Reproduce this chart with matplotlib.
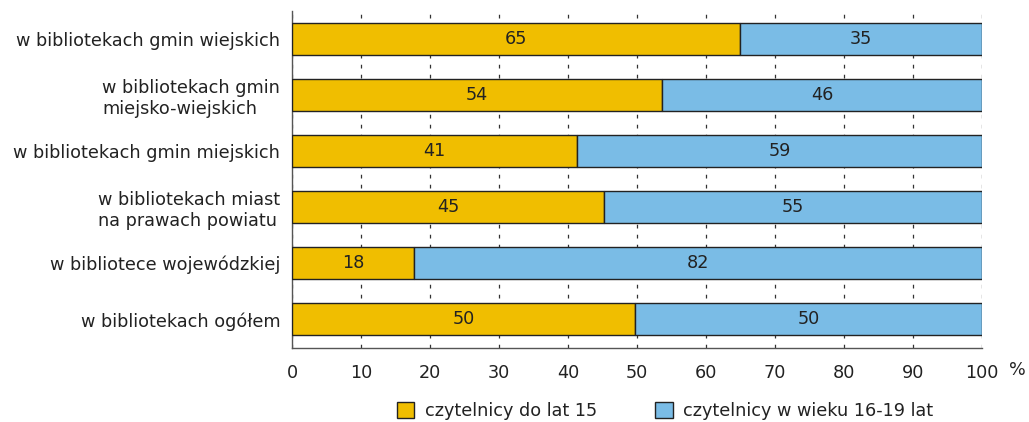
import matplotlib
matplotlib.use("Agg")
import matplotlib.pyplot as plt
from matplotlib.patches import Patch

categories = [
    "w bibliotekach gmin wiejskich",
    "w bibliotekach gmin\nmiejsko-wiejskich",
    "w bibliotekach gmin miejskich",
    "w bibliotekach miast\nna prawach powiatu",
    "w bibliotece wojewódzkiej",
    "w bibliotekach ogółem",
]
under15 = [64.9, 53.6, 41.3, 45.2, 17.7, 49.7]
age16_19 = [35.1, 46.4, 58.7, 54.8, 82.3, 50.3]
labels_under15 = ["65", "54", "41", "45", "18", "50"]
labels_16_19 = ["35", "46", "59", "55", "82", "50"]
series_names = ["czytelnicy do lat 15", "czytelnicy w wieku 16-19 lat"]
xticks = [0, 10, 20, 30, 40, 50, 60, 70, 80, 90, 100]

c1 = "#F0BE00"
c2 = "#7ABCE6"
edge = "#222222"
txt = "#222222"
fs = 12.7

plt.rcParams['font.family'] = ['DejaVu Sans']
fig = plt.figure(figsize=(10.29, 4.22), dpi=100)
ax = fig.add_axes([292/1029, 1-347.5/422, 690/1029, 337/422])

y = list(range(len(categories)))
ax.barh(y, under15, height=0.57, color=c1, edgecolor=edge, linewidth=1.0, zorder=3)
ax.barh(y, age16_19, left=under15, height=0.57, color=c2, edgecolor=edge, linewidth=1.0, zorder=3)

for i in y:
    ax.text(under15[i]/2, i, labels_under15[i], ha='center', va='center', fontsize=fs, color=txt, zorder=4)
    ax.text(under15[i] + age16_19[i]/2, i, labels_16_19[i], ha='center', va='center', fontsize=fs, color=txt, zorder=4)

ax.set_xlim(0, 100)
ax.set_ylim(len(categories)-0.5, -0.5)
ax.set_yticks(y)
ax.set_yticklabels(categories, fontsize=fs, color=txt, multialignment='left')
ax.set_xticks(xticks)
ax.set_xticklabels([str(v) for v in xticks], fontsize=fs, color=txt)
ax.tick_params(axis='x', length=0, pad=12)
ax.tick_params(axis='y', length=0, pad=8.5)
ax.xaxis.grid(True, linestyle=(0, (3, 5)), color='#333333', linewidth=0.9, zorder=0)
ax.set_axisbelow(True)
for s in ['top', 'right']:
    ax.spines[s].set_visible(False)
for s in ['left', 'bottom']:
    ax.spines[s].set_color('#555555')
    ax.spines[s].set_linewidth(1.0)

fig.text(1017/1029, 1-370/422, "%", fontsize=fs, color=txt, ha='center', va='center')

handles = [Patch(facecolor=c1, edgecolor=edge, linewidth=1.0),
           Patch(facecolor=c2, edgecolor=edge, linewidth=1.0)]
fig.legend(handles, series_names, loc='center', bbox_to_anchor=(665/1029, 1-411/422),
           ncol=2, frameon=False, fontsize=fs, handlelength=1.0, handleheight=1.0,
           columnspacing=3.3, handletextpad=0.6, labelcolor=txt, borderpad=0)

fig.savefig("out.png", dpi=100)
